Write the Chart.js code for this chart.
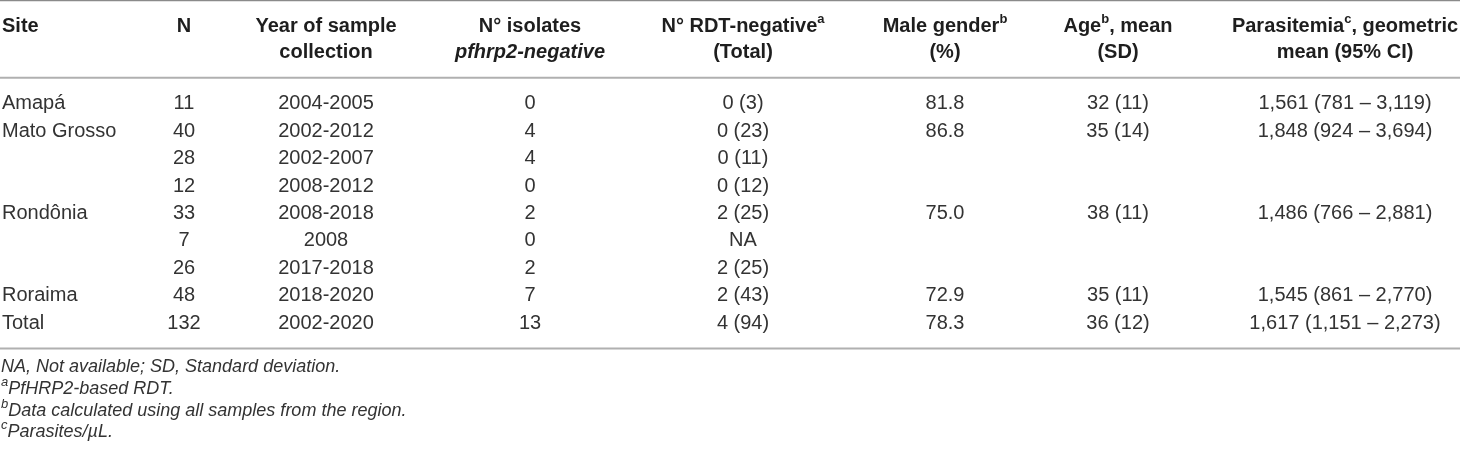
<!DOCTYPE html>
<html>
<head>
<meta charset="utf-8">
<script src="https://cdn.jsdelivr.net/npm/chart.js@4.4.1/dist/chart.umd.min.js"></script>
<style>
    html, body { margin: 0; padding: 0; background: #fff; }
    #wrap { width: 1460px; height: 456px; }
</style>
</head>
<body>
<div id="wrap"><canvas id="table-chart" width="1460" height="456"></canvas></div>
<script>
// table values, one array per column
var sites = ['Amapá', 'Mato Grosso', '', '', 'Rondônia', '', '', 'Roraima', 'Total'];
var sampleN = [11, 40, 28, 12, 33, 7, 26, 48, 132];
var years = ['2004-2005', '2002-2012', '2002-2007', '2008-2012', '2008-2018', '2008', '2017-2018', '2018-2020', '2002-2020'];
var isolatesNeg = [0, 4, 4, 0, 2, 0, 2, 7, 13];
var rdtNeg = [0, 0, 0, 0, 2, null, 2, 2, 4];
var rdtTotal = [3, 23, 11, 12, 25, null, 25, 43, 94];
var malePct = [81.8, 86.8, null, null, 75.0, null, null, 72.9, 78.3];
var ageMean = [32, 35, null, null, 38, null, null, 35, 36];
var ageSd = [11, 14, null, null, 11, null, null, 11, 12];
var paraMean = [1561, 1848, null, null, 1486, null, null, 1545, 1617];
var paraLow = [781, 924, null, null, 766, null, null, 861, 1151];
var paraHigh = [3119, 3694, null, null, 2881, null, null, 2770, 2273];

var headerTop = [
    [{t: 'Site'}], [{t: 'N'}], [{t: 'Year of sample'}], [{t: 'N° isolates'}],
    [{t: 'N° RDT-negative'}, {t: 'a', sup: true}],
    [{t: 'Male gender'}, {t: 'b', sup: true}],
    [{t: 'Age'}, {t: 'b', sup: true}, {t: ', mean'}],
    [{t: 'Parasitemia'}, {t: 'c', sup: true}, {t: ', geometric'}]
];
var headerBottom = [
    null, null, [{t: 'collection'}], [{t: 'pfhrp2-negative', it: true}],
    [{t: '(Total)'}], [{t: '(%)'}], [{t: '(SD)'}], [{t: 'mean (95% CI)'}]
];
var footnotes = [
    [{t: 'NA, Not available; SD, Standard deviation.'}],
    [{t: 'a', sup: true}, {t: 'PfHRP2-based RDT.'}],
    [{t: 'b', sup: true}, {t: 'Data calculated using all samples from the region.'}],
    [{t: 'c', sup: true}, {t: 'Parasites/µL.'}]
];

// layout
var FONT = '"Liberation Sans", Arial, Helvetica, sans-serif';
var colX = [2, 184, 326, 530, 743, 945, 1118, 1345];
var colAlign = ['left', 'center', 'center', 'center', 'center', 'center', 'center', 'center'];

function fmt(n) {
    return n.toLocaleString('en-US');
}

function cellText(col, i) {
    switch (col) {
        case 0: return sites[i];
        case 1: return String(sampleN[i]);
        case 2: return years[i];
        case 3: return String(isolatesNeg[i]);
        case 4: return rdtNeg[i] === null ? 'NA' : rdtNeg[i] + ' (' + rdtTotal[i] + ')';
        case 5: return malePct[i] === null ? '' : malePct[i].toFixed(1);
        case 6: return ageMean[i] === null ? '' : ageMean[i] + ' (' + ageSd[i] + ')';
        case 7: return paraMean[i] === null ? '' : fmt(paraMean[i]) + ' (' + fmt(paraLow[i]) + ' – ' + fmt(paraHigh[i]) + ')';
    }
    return '';
}

function partFont(p, size, bold, italic, supScale) {
    var s = p.sup ? Math.round(size * supScale) : size;
    return ((italic || p.it) ? 'italic ' : '') + (bold ? 'bold ' : '') + s + 'px ' + FONT;
}

function drawRich(ctx, parts, x, y, align, size, bold, italic, color, supScale) {
    supScale = supScale || 0.64;
    var w = 0, widths = [];
    parts.forEach(function (p) {
        ctx.font = partFont(p, size, bold, italic, supScale);
        var pw = ctx.measureText(p.t).width;
        widths.push(pw);
        w += pw;
    });
    var cx = align === 'center' ? x - w / 2 : x;
    ctx.fillStyle = color;
    ctx.textAlign = 'left';
    ctx.textBaseline = 'middle';
    parts.forEach(function (p, k) {
        ctx.font = partFont(p, size, bold, italic, supScale);
        ctx.fillText(p.t, cx, p.sup ? y - size * 0.36 : y);
        cx += widths[k];
    });
}

function rule(ctx, y, x0, x1, color, lw) {
    ctx.save();
    ctx.strokeStyle = color;
    ctx.lineWidth = lw;
    ctx.beginPath();
    ctx.moveTo(x0, y);
    ctx.lineTo(x1, y);
    ctx.stroke();
    ctx.restore();
}

var tablePlugin = {
    id: 'tableText',
    afterDraw: function (chart) {
        var ctx = chart.ctx;
        var xs = chart.scales.x, ys = chart.scales.y;
        var left = xs.getPixelForValue(0), right = xs.getPixelForValue(1460);

        ctx.save();
        // rules
        rule(ctx, ys.getPixelForValue(-3.77), left, right, '#8a8a8a', 2);
        rule(ctx, ys.getPixelForValue(-0.95), left, right, '#b0b0b0', 2);
        rule(ctx, ys.getPixelForValue(8.92), left, right, '#b0b0b0', 2);

        // header
        var h1 = ys.getPixelForValue(-2.8), h2 = ys.getPixelForValue(-1.85);
        for (var c = 0; c < colX.length; c++) {
            var px = xs.getPixelForValue(colX[c]);
            drawRich(ctx, headerTop[c], px, h1, colAlign[c], 20, true, false, '#1e1e1e');
            if (headerBottom[c]) {
                drawRich(ctx, headerBottom[c], px, h2, colAlign[c], 20, true, false, '#1e1e1e');
            }
        }

        // body
        for (var i = 0; i < sites.length; i++) {
            var py = ys.getPixelForValue(i);
            for (var c2 = 0; c2 < colX.length; c2++) {
                var txt = cellText(c2, i);
                if (!txt) continue;
                drawRich(ctx, [{t: txt}], xs.getPixelForValue(colX[c2]), py, colAlign[c2], 20, false, false, '#333333');
            }
        }

        // footnotes
        for (var f = 0; f < footnotes.length; f++) {
            drawRich(ctx, footnotes[f], left + 1, ys.getPixelForValue(9.6 + f * 0.79), 'left', 18, false, true, '#333333', 0.74);
        }
        ctx.restore();
    }
};

var chart = new Chart(document.getElementById('table-chart').getContext('2d'), {
    type: 'scatter',
    data: {
        datasets: [{
            data: sampleN.map(function (v, i) { return {x: colX[1], y: i}; }),
            pointRadius: 0
        }]
    },
    options: {
        responsive: false,
        animation: false,
        events: [],
        layout: {padding: {top: 90, bottom: 119, left: 0, right: 0}},
        plugins: {
            legend: {display: false},
            tooltip: {enabled: false}
        },
        scales: {
            x: {type: 'linear', min: 0, max: 1460, display: false},
            y: {type: 'linear', min: -0.5, max: 8.5, reverse: true, display: false}
        }
    },
    plugins: [tablePlugin]
});
</script>
</body>
</html>
